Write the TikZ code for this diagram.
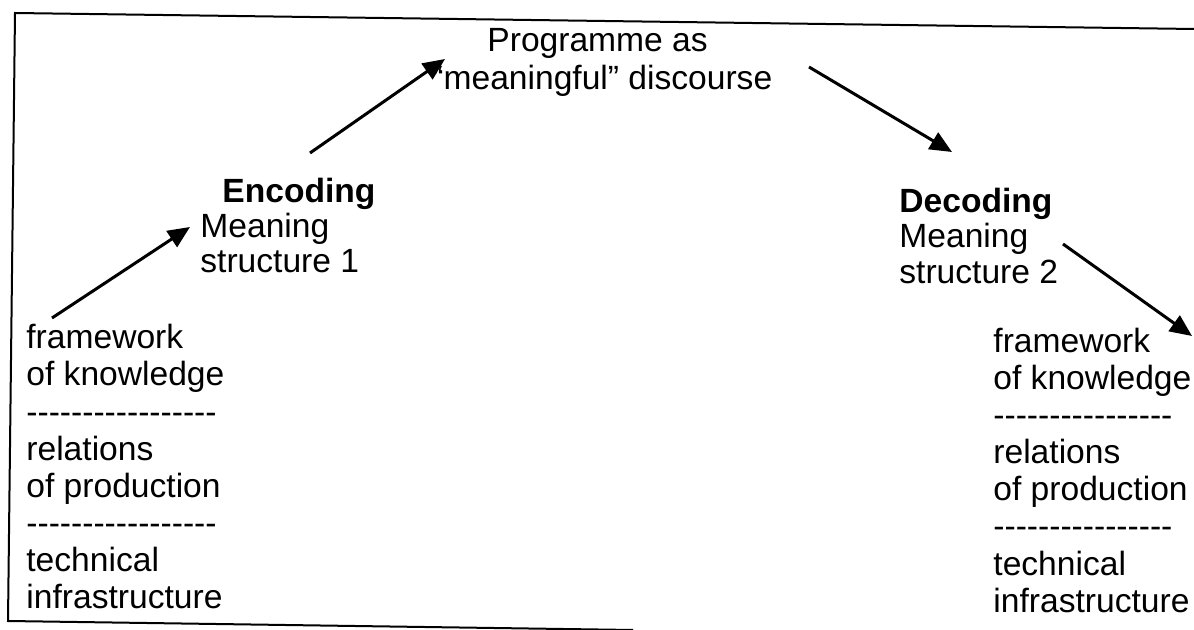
\documentclass[tikz,border=0pt]{standalone}
\usepackage{fontspec}
\setmainfont{Liberation Sans}
\usetikzlibrary{arrows.meta}
\newcommand\dashrow[1]{\foreach\k in {1,...,#1}{\mbox{-}}}
\begin{document}
\begin{tikzpicture}[x=0.5pt,y=-0.5pt,
  txt/.style={anchor=base west, inner sep=0pt, font=\fontsize{16.8}{19}\selectfont},
  arr/.style={line width=1.5pt, -{Triangle[length=11pt,width=9.5pt]}},
  frameline/.style={line width=1pt}]
\useasboundingbox (0,0) rectangle (1194,630);
% frame
\draw[frameline] (1194,29) -- (15,13) -- (8,621) -- (633,630);
% top text
\node[txt] (p1) at (487,52) {Programme as};
\node[txt] (p2) at (432,90) {“meaningful” discourse};
% encoding
\node[txt] (enc) at (222,203) {\bfseries Encoding};
\node[txt] (encm1) at (200,238) {Meaning};
\node[txt] (encm2) at (200,273) {structure 1};
% decoding
\node[txt] (dec) at (899,213) {\bfseries Decoding};
\node[txt] (decm1) at (899,248) {Meaning};
\node[txt] (decm2) at (899,284) {structure 2};
% left stack
\node[txt] (L1) at (26,349) {framework};
\node[txt] (L2) at (26,386) {of knowledge};
\node[txt] (L3) at (26,423) {\dashrow{17}};
\node[txt] (L4) at (26,460) {relations};
\node[txt] (L5) at (26,497) {of production};
\node[txt] (L6) at (26,534) {\dashrow{17}};
\node[txt] (L7) at (26,571) {technical};
\node[txt] (L8) at (26,608) {infrastructure};
% right stack
\node[txt] (R1) at (993,353) {framework};
\node[txt] (R2) at (993,390) {of knowledge};
\node[txt] (R3) at (993,427) {\dashrow{16}};
\node[txt] (R4) at (993,464) {relations};
\node[txt] (R5) at (993,501) {of production};
\node[txt] (R6) at (993,538) {\dashrow{16}};
\node[txt] (R7) at (993,575) {technical};
\node[txt] (R8) at (993,612) {infrastructure};
% arrows
\coordinate (a1s) at (52,318);  \coordinate (a1e) at (190,227);
\coordinate (a2s) at (310,153); \coordinate (a2e) at (445,59);
\coordinate (a3s) at (809,67);  \coordinate (a3e) at (952,152);
\coordinate (a4s) at (1063,244); \coordinate (a4e) at (1192,336);
\draw[arr] (a1s) -- (a1e);
\draw[arr] (a2s) -- (a2e);
\draw[arr] (a3s) -- (a3e);
\draw[arr] (a4s) -- (a4e);
\end{tikzpicture}
\end{document}
